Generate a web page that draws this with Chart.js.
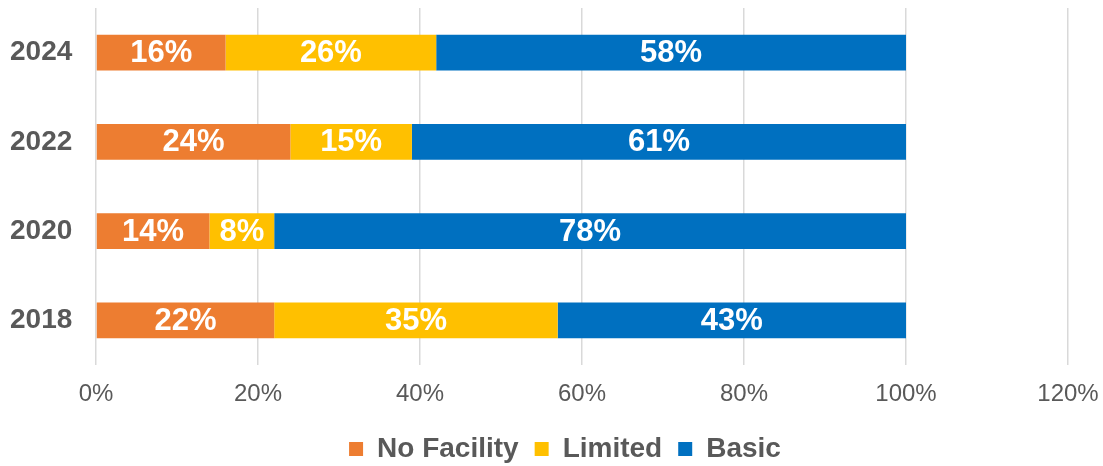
<!DOCTYPE html>
<html>
<head>
<meta charset="utf-8">
<script src="https://cdn.jsdelivr.net/npm/chart.js@4/dist/chart.umd.min.js"></script>
<style>
  html, body { margin: 0; padding: 0; background: #fff; }
  #wrap { width: 1103px; height: 466px; position: relative; }
</style>
</head>
<body>
<div id="wrap"><canvas id="chart"></canvas></div>
<script>
const years = ['2024', '2022', '2020', '2018'];
const noFacility = [16, 24, 14, 22];
const limited = [26, 15, 8, 35];
const basic = [58, 61, 78, 43];
const xTicks = [0, 20, 40, 60, 80, 100, 120];

const fontFam = '"Liberation Sans", Arial, sans-serif';

// white % labels in the middle of each segment
const barLabels = {
  id: 'barLabels',
  afterDatasetsDraw(chart) {
    const ctx = chart.ctx;
    ctx.save();
    ctx.fillStyle = '#ffffff';
    ctx.font = 'bold 31px ' + fontFam;
    ctx.textAlign = 'center';
    ctx.textBaseline = 'middle';
    chart.data.datasets.forEach((ds, i) => {
      chart.getDatasetMeta(i).data.forEach((bar, j) => {
        const p = bar.getCenterPoint();
        ctx.fillText(ds.data[j] + '%', p.x, p.y + 1);
      });
    });
    ctx.restore();
  }
};

new Chart(document.getElementById('chart'), {
  type: 'bar',
  data: {
    labels: years,
    datasets: [
      { label: 'No Facility', data: noFacility, backgroundColor: '#ED7D31' },
      { label: 'Limited', data: limited, backgroundColor: '#FFC000' },
      { label: 'Basic', data: basic, backgroundColor: '#0070C0' }
    ]
  },
  options: {
    indexAxis: 'y',
    responsive: true,
    maintainAspectRatio: false,
    animation: false,
    categoryPercentage: 1,
    barPercentage: 0.4,
    layout: { padding: { top: 8, right: 35, left: 62, bottom: -7 } },
    scales: {
      x: {
        stacked: true,
        min: 0,
        max: 120,
        afterBuildTicks(axis) { axis.ticks = xTicks.map(v => ({ value: v })); },
        grid: { color: '#d9d9d9', lineWidth: 1.5, drawTicks: false },
        border: { display: false },
        ticks: {
          padding: 15,
          color: '#595959',
          font: { family: fontFam, size: 24 },
          callback: v => v + '%'
        },
        afterFit(axis) {
          axis.height = 54;
          axis.paddingLeft = 0;
          axis.paddingRight = 0;
        }
      },
      y: {
        stacked: true,
        grid: { display: false },
        border: { display: false },
        ticks: {
          // mirrored so the labels are not clipped to the narrow axis box
          mirror: true,
          padding: -86,
          color: '#595959',
          font: { family: fontFam, size: 28, weight: 'bold' }
        },
        afterFit(axis) {
          axis.width = 34;
          axis.paddingTop = 0;
          axis.paddingBottom = 0;
        }
      }
    },
    plugins: {
      legend: {
        position: 'bottom',
        labels: {
          usePointStyle: true,
          pointStyle: 'rect',
          boxWidth: 14,
          boxHeight: 14,
          padding: 16,
          color: '#595959',
          font: { family: fontFam, size: 28, weight: 'bold' }
        }
      },
      tooltip: { enabled: false }
    }
  },
  plugins: [barLabels]
});
</script>
</body>
</html>
